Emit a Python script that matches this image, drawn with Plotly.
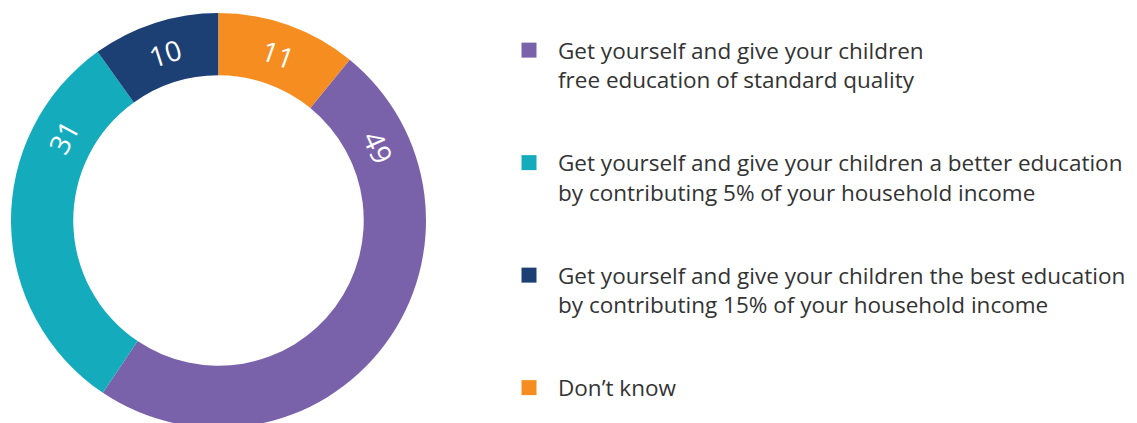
import math
import plotly.graph_objects as go

labels = [
    "Get yourself and give your children<br>free education of standard quality",
    "Get yourself and give your children a better education<br>by contributing 5% of your household income",
    "Get yourself and give your children the best education<br>by contributing 15% of your household income",
    "Don’t know",
]
values = [49, 31, 10, 11]
colors = ["#7a62aa", "#14abbd", "#1c3f74", "#f68d21"]

W, H = 1137, 423
total = sum(values)
start_angle = 360 * values[-1] / total

# pie placement (figure pixels)
dom_x = [3 / W, 418 / W]
dom_y = [1 - 420 / H, 1 - 5 / H]
hole = 0.70

fig = go.Figure()
fig.add_trace(go.Pie(
    labels=labels,
    values=values,
    sort=False,
    direction="clockwise",
    rotation=start_angle,
    hole=hole,
    marker=dict(colors=colors, line=dict(width=0)),
    textinfo="none",
    hoverinfo="label+value",
    showlegend=False,
    domain=dict(x=dom_x, y=dom_y),
))

# value labels along the ring, tangential, kept toward the top of each slice
cx_px = (dom_x[0] + dom_x[1]) / 2 * W
cy_px = (dom_y[0] + dom_y[1]) / 2 * H
R_px = min((dom_x[1] - dom_x[0]) * W, (dom_y[1] - dom_y[0]) * H) / 2
r_lab = R_px * (1 + hole) / 2
margin_deg = 26
acc = start_angle
for v in values:
    a0 = acc
    a1 = acc + 360 * v / total
    acc = a1
    mid = (a0 + a1) / 2
    if a1 - a0 <= 2 * margin_deg:
        ang = mid
    else:
        lo, hi = a0 + margin_deg, a1 - margin_deg
        # choose point within [lo, hi] nearest to 12 o'clock (0/360)
        cand = [lo, hi]
        ang = min(cand, key=lambda t: min(t % 360, 360 - t % 360))
    ang_n = ang % 360
    rot = ang_n if ang_n <= 180 else ang_n - 360
    if rot > 90:
        rot -= 180
    elif rot < -90:
        rot += 180
    x_px = cx_px + r_lab * math.sin(math.radians(ang_n))
    y_px = cy_px + r_lab * math.cos(math.radians(ang_n))
    fig.add_annotation(
        x=x_px / W, y=y_px / H, xref="paper", yref="paper",
        text=str(v), showarrow=False, textangle=rot,
        xanchor="center", yanchor="middle",
        font=dict(family="Open Sans", size=28, color="white"),
    )

for lab, col in zip(labels, colors):
    fig.add_trace(go.Scatter(
        x=[None], y=[None], mode="markers", name=lab, legendgroup=lab,
        marker=dict(symbol="square", size=15, color=col),
    ))

fig.update_layout(
    width=W, height=H,
    margin=dict(l=0, r=0, t=0, b=0),
    paper_bgcolor="white", plot_bgcolor="white",
    xaxis=dict(visible=False), yaxis=dict(visible=False),
    showlegend=True,
    legend=dict(
        x=492 / W, xanchor="left", y=1 - 21 / H, yanchor="top",
        traceorder="grouped", tracegroupgap=51, valign="top",
        itemwidth=48,
        font=dict(family="Open Sans", size=22.5, color="#333333"),
        itemclick=False,
    ),
)

fig.write_html("out.html")
